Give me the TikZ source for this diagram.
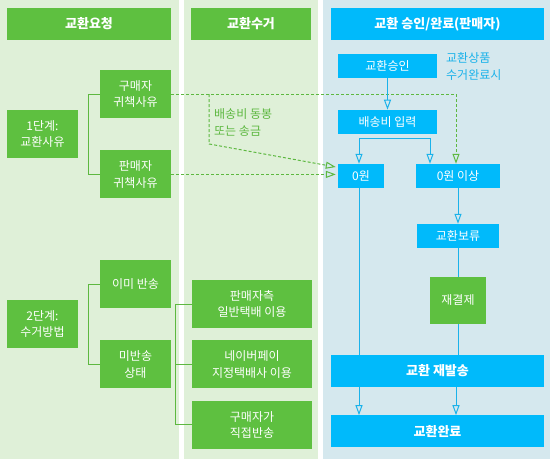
\documentclass[tikz,border=0pt]{standalone}
\usepackage{fontspec}
\setmainfont{Noto Sans CJK KR}
\usepackage{xcolor}
\usetikzlibrary{arrows.meta,positioning}

\definecolor{boxgreen}{HTML}{5EC040}
\definecolor{boxblue}{HTML}{00BAFB}
\definecolor{bggreen}{HTML}{DFF0D8}
\definecolor{bgblue}{HTML}{D5E8EE}
\definecolor{linegreen}{HTML}{5DB840}
\definecolor{lineblue}{HTML}{1AB2EA}

\begin{document}
\begin{tikzpicture}[
    x=1pt, y=-1pt,
    gbox/.style={rectangle, fill=boxgreen, text=white, align=center, inner sep=0pt, minimum width=71pt, minimum height=48pt, font=\fontsize{12}{16.5}\selectfont},
    bbox/.style={rectangle, fill=boxblue, text=white, align=center, inner sep=0pt, minimum width=99pt, minimum height=24pt, font=\fontsize{12}{16.5}\selectfont},
    ghead/.style={rectangle, fill=boxgreen, text=white, inner sep=0pt, minimum height=32pt, font=\fontsize{13}{15}\selectfont\bfseries},
    bhead/.style={ghead, fill=boxblue},
    gnote/.style={text=linegreen, align=left, inner sep=0pt, font=\fontsize{12}{17}\selectfont},
    bnote/.style={gnote, text=lineblue},
    glink/.style={draw=linegreen, line width=1pt},
    gdash/.style={draw=linegreen, line width=1pt, dash pattern=on 3pt off 2pt, -{Triangle[open,length=10pt,width=7pt]}},
    bline/.style={draw=lineblue, line width=1pt},
    barrow/.style={bline, -{Triangle[open,length=10pt,width=7pt]}},
    bboth/.style={bline, {Triangle[open,length=10pt,width=7pt]}-{Triangle[open,length=10pt,width=7pt]}}
]
\useasboundingbox (0,0) rectangle (550,459);

% Column backgrounds
\fill[bggreen] (0,0) rectangle (179,459);
\fill[bggreen] (184,0) rectangle (318,459);
\fill[bgblue] (323,0) rectangle (550,459);

% Headers
\node[ghead, minimum width=164pt] (hreq) at (89,24) {교환요청};
\node[ghead, minimum width=120pt] (hpick) at (251,24) {교환수거};
\node[bhead, minimum width=213pt] (hseller) at (437.5,24) {교환 승인/완료(판매자)};

% Exchange request
\node[gbox] (step1) at (42.5,134) {1단계:\\교환사유};
\node[gbox] (buyer) at (135.5,94) {구매자\\귀책사유};
\node[gbox, below=32pt of buyer] (seller) {판매자\\귀책사유};
\node[gbox] (step2) at (42.5,324) {2단계:\\수거방법};
\node[gbox] (already) at (135.5,284) {이미 반송};
\node[gbox, below=32pt of already] (notret) {미반송\\상태};

% Pickup
\node[gbox, minimum width=120pt] (pick1) at (252,304) {판매자측\\일반택배 이용};
\node[gbox, minimum width=120pt, below=12pt of pick1] (pick2) {네이버페이\\지정택배사 이용};
\node[gbox, minimum width=120pt, below=12pt of pick2] (pick3) {구매자가\\직접반송};
\node[gnote, anchor=north west] (memo) at (214,108) {배송비 동봉\\또는 송금};

% Seller approval
\node[bbox] (approve) at (387.5,65.5) {교환승인};
\node[bnote, anchor=north west] (cond) at (446,52) {교환상품\\수거완료시};
\node[bbox, below=32pt of approve] (fee) {배송비 입력};
\node[bbox, minimum width=46pt] (zero) at (361,176) {0원};
\node[bbox, minimum width=84pt] (over) at (458,176) {0원 이상};
\node[bbox, minimum width=82pt] (hold) at (458,236) {교환보류};
\node[gbox, minimum width=56pt, minimum height=47pt] (repay) at (458,300.5) {재결제};
\node[bbox, minimum width=213pt, minimum height=32pt, font=\fontsize{13}{15}\selectfont\bfseries] (resend) at (437.5,371) {교환 재발송};
\node[bbox, minimum width=213pt, minimum height=32pt, font=\fontsize{13}{15}\selectfont\bfseries, below=28pt of resend] (done) {교환완료};

% Brackets
\draw[glink] (buyer.west) -- ++(-11,0) |- (seller.west);
\draw[glink] (already.west) -- ++(-11,0) |- (notret.west);
\draw[glink] (pick1.west) -- ++(-16,0) |- (pick3.west);
\draw[glink] (pick2.west) -- ++(-16,0);

% Shipping fee paths
\draw[gdash] (buyer.east) -| ([xshift=-2pt]over.north);
\draw[gdash] ([xshift=38pt]buyer.east) -- ++(0,50) -- ([xshift=-2pt,yshift=9pt]zero.west);
\draw[gdash] (seller.east) -- ([xshift=-2pt]seller.east -| zero.west);

% Approval flow
\draw[barrow] (approve) -- (fee);
\draw[bboth] ([xshift=-2pt]zero.north) -- ++(0,-25) -| ([xshift=-28pt]over.north);
\draw[bline] ([xshift=-2pt]zero.south) -- ([xshift=-2pt]zero.south |- resend.north);
\draw[barrow] (over) -- (hold);
\draw[bline] (hold) -- (repay);
\draw[bline] (repay) -- (repay |- resend.north);
\draw[barrow] ([xshift=-2pt]zero.south |- resend.south) -- ([xshift=-2pt]zero.south |- done.north);
\draw[barrow] ([xshift=-2pt]repay.south |- resend.south) -- ([xshift=-2pt]repay.south |- done.north);

\end{tikzpicture}
\end{document}
